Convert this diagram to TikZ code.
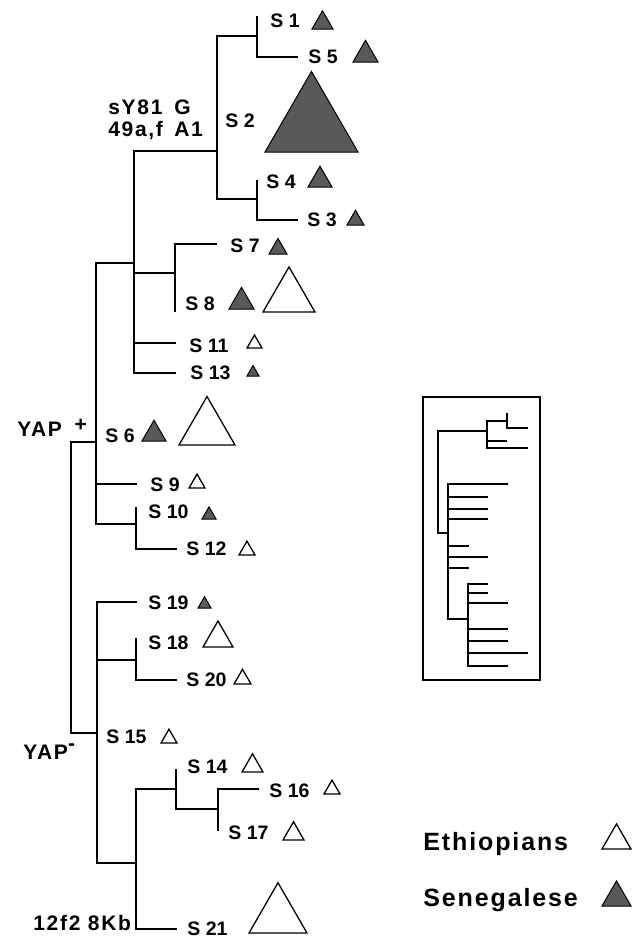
\documentclass[tikz,border=0pt]{standalone}
\usepackage{fontspec}
\setmainfont{Liberation Sans}
\newfontfamily\notefam[LetterSpace=8]{Liberation Sans}
\newfontfamily\legendfam[LetterSpace=7.5]{Liberation Sans}
\newcommand{\leaffont}{\bfseries\fontsize{9.75}{11}\selectfont}
\newcommand{\notefont}{\notefam\bfseries\fontsize{10.5}{10.5}\selectfont}
\newcommand{\legfont}{\legendfam\bfseries\fontsize{12.5}{14}\selectfont}
% haplotype triangle: style, base centre x, base y, base width
\newcommand{\hapl}[4]{\draw[#1] ({#2-#4/2},#3) -- ({#2+#4/2},#3) -- (#2,{#3-0.866*#4}) -- cycle;}
\begin{document}
\begin{tikzpicture}[x=0.5pt, y=-0.5pt,
	branch/.style={line width=0.7pt},
	leaf/.style={anchor=west, inner sep=0pt, font=\leaffont},
	note/.style={anchor=base west, inner sep=0pt, font=\notefont},
	sen/.style={draw=black, fill=black!65, line width=0.5pt},
	eth/.style={draw=black, fill=white, line width=0.65pt},
	inset/.style={line width=0.6pt}]
	\useasboundingbox (0,0) rectangle (636,937);

	% leaf tips and labels
	\coordinate (t1)  at (257,16);  \node[leaf] (l1)  at (270,21)  {S 1};
	\coordinate (t5)  at (298,57);  \node[leaf] (l5)  at (308,57)  {S 5};
	                                \node[leaf] (l2)  at (225,121) {S 2};
	\coordinate (t4)  at (257,180); \node[leaf] (l4)  at (266,182) {S 4};
	\coordinate (t3)  at (298,220); \node[leaf] (l3)  at (307,220) {S 3};
	\coordinate (t7)  at (217,244); \node[leaf] (l7)  at (230,246) {S 7};
	\coordinate (t8)  at (175,312); \node[leaf] (l8)  at (185,304) {S 8};
	\coordinate (t11) at (176,343); \node[leaf] (l11) at (189,346) {S 11};
	\coordinate (t13) at (176,373); \node[leaf] (l13) at (190,373) {S 13};
	                                \node[leaf] (l6)  at (105,436) {S 6};
	\coordinate (t9)  at (137,484); \node[leaf] (l9)  at (150,485) {S 9};
	\coordinate (t10) at (136,507); \node[leaf] (l10) at (148,512) {S 10};
	\coordinate (t12) at (177,549); \node[leaf] (l12) at (186,549) {S 12};
	\coordinate (t19) at (137,602); \node[leaf] (l19) at (148,603) {S 19};
	\coordinate (t18) at (136,638); \node[leaf] (l18) at (148,643) {S 18};
	\coordinate (t20) at (177,680); \node[leaf] (l20) at (186,680) {S 20};
	                                \node[leaf] (l15) at (106,737) {S 15};
	\coordinate (t14) at (176,769); \node[leaf] (l14) at (187,767) {S 14};
	\coordinate (t16) at (259,789); \node[leaf] (l16) at (269,791) {S 16};
	\coordinate (t17) at (218,831); \node[leaf] (l17) at (228,833) {S 17};
	\coordinate (t21) at (177,929); \node[leaf] (l21) at (187,929) {S 21};

	% internal nodes
	\coordinate (n15)      at (257,36);
	\coordinate (n43)      at (257,199);
	\coordinate (n2)       at (217,151);
	\coordinate (n78)      at (175,273);
	\coordinate (nplus)    at (134,263);
	\coordinate (n1012)    at (136,524);
	\coordinate (yapplus)  at (96,442);
	\coordinate (n1820)    at (136,660);
	\coordinate (n1617)    at (218,809);
	\coordinate (n14)      at (176,789);
	\coordinate (n21)      at (136,863);
	\coordinate (yapminus) at (97,733);
	\coordinate (root)     at (71,587);

	\draw[branch] (n15) |- (t1);   \draw[branch] (n15) |- (t5);
	\draw[branch] (n43) |- (t4);   \draw[branch] (n43) |- (t3);
	\draw[branch] (n2) |- (n15);   \draw[branch] (n2) |- (n43);
	\draw[branch] (n78) |- (t7);   \draw[branch] (n78) |- (t8);
	\draw[branch] (nplus) |- (n2); \draw[branch] (nplus) |- (n78);
	\draw[branch] (nplus) |- (t11); \draw[branch] (nplus) |- (t13);
	\draw[branch] (n1012) |- (t10); \draw[branch] (n1012) |- (t12);
	\draw[branch] (yapplus) |- (nplus); \draw[branch] (yapplus) |- (t9);
	\draw[branch] (yapplus) |- (n1012);
	\draw[branch] (root) |- (yapplus); \draw[branch] (root) |- (yapminus);
	\draw[branch] (n1820) |- (t18); \draw[branch] (n1820) |- (t20);
	\draw[branch] (n1617) |- (t16); \draw[branch] (n1617) |- (t17);
	\draw[branch] (n14) |- (t14);  \draw[branch] (n14) |- (n1617);
	\draw[branch] (n21) |- (n14);  \draw[branch] (n21) |- (t21);
	\draw[branch] (yapminus) |- (t19); \draw[branch] (yapminus) |- (n1820);
	\draw[branch] (yapminus) |- (n21);

	% marker labels
	\node[note] (sy81) at (108,114.5) {\begin{tabular}[t]{@{}p{33pt}@{}l@{}}sY81 & G\\ 49a,f & A1\end{tabular}};
	\node[note] (yapp) at (17,436.5) {YAP\hspace{0.6em}\raisebox{0.22em}{+}};
	\node[note] (yapm) at (23,759.5) {YAP\raisebox{0.42em}{-}};
	\node[note] (kb)   at (33,930.5) {12f2 8Kb};

	% haplotype frequencies
	\hapl{sen}{322.5}{29}{21}
	\hapl{sen}{365.5}{62}{25}
	\hapl{sen}{311.5}{152}{93}
	\hapl{sen}{320}{187}{24}
	\hapl{sen}{355.5}{225}{17}
	\hapl{sen}{278}{254}{18}
	\hapl{sen}{241.5}{309}{25}
	\hapl{eth}{289}{312}{52}
	\hapl{eth}{254.5}{348}{15}
	\hapl{sen}{253}{376}{12}
	\hapl{sen}{154}{441}{24}
	\hapl{eth}{207}{445}{56}
	\hapl{eth}{197}{488}{16}
	\hapl{sen}{209}{519}{14}
	\hapl{eth}{247}{555}{16}
	\hapl{sen}{204.5}{608}{13}
	\hapl{eth}{218}{647}{30}
	\hapl{eth}{242.5}{684}{17}
	\hapl{eth}{169}{743}{16}
	\hapl{eth}{252.5}{772}{21}
	\hapl{eth}{332}{794}{16}
	\hapl{eth}{293.5}{840}{21}
	\hapl{eth}{278}{933}{58}

	% inset tree
	\draw[inset] (423,397) rectangle (540,680);
	\draw[inset] (487,431) -| (438,533) -- (448,533);
	\draw[inset] (507,421) -| (487,448) -- (528,448) (487,441) -- (507,441);
	\draw[inset] (507,413) |- (528,428);
	\draw[inset] (508,484) -| (448,619) -- (468,619)
		(448,497) -- (488,497) (448,509) -- (488,509) (448,519) -- (488,519)
		(448,546) -- (469,546) (448,557) -- (488,557) (448,568) -- (469,568);
	\draw[inset] (488,584) -| (468,666) -- (508,666)
		(468,593) -- (488,593) (468,603) -- (508,603) (468,629) -- (508,629)
		(468,641) -- (508,641) (468,653) -- (528,653);

	% legend
	\node[anchor=base west, inner sep=0pt, font=\legfont] (eth) at (423,850) {Ethiopians};
	\node[anchor=base west, inner sep=0pt, font=\legfont] (sen) at (423,906) {Senegalese};
	\hapl{eth}{616.5}{849}{29}
	\hapl{sen}{616.5}{906}{29}
\end{tikzpicture}
\end{document}
